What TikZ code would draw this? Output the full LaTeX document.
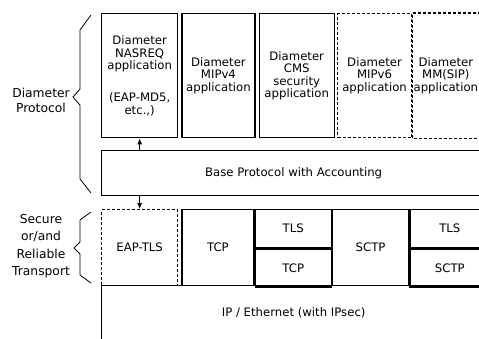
\documentclass[tikz,border=0pt]{standalone}
\usepackage{fontspec}
\setmainfont{DejaVu Sans}
\usepackage{tikz}
\usetikzlibrary{positioning}
\usetikzlibrary{arrows.meta}
\tikzstyle{stack_style}=[
	x=1pt, y=-1pt, line width=1.3pt,
	layer/.style={rectangle,draw,inner sep=0pt,align=center,font=\fontsize{11.7}{12.5}\selectfont},
	dashed_layer/.style={layer,dash pattern=on 3pt off 2pt},
	open_layer/.style={layer,draw=none},
	dashes/.style={dash pattern=on 3pt off 2pt},
	label/.style={rectangle,draw=none,align=center,font=\fontsize{12.3}{15}\selectfont},
	brace_line/.style={line width=0.8pt,line join=miter},
	link/.style={-{Latex[length=6pt,width=5pt]},line width=0.9pt}
]

\begin{document}
\begin{tikzpicture}[stack_style]
		
		\useasboundingbox (0,0) rectangle (479,338);
		\clip (0,0) rectangle (479,338);
		
		% applications
		\node[layer,anchor=north west,minimum width=76pt,minimum height=124pt] (nasreq) at (101,13) {Diameter\\NASREQ\\application\\[19.5pt](EAP-MD5,\\etc.,)};
		\node[layer,minimum width=73pt,minimum height=124pt]        (mipv4)[right=3pt of nasreq] {Diameter\\MIPv4\\application};
		\node[layer,minimum width=75pt,minimum height=124pt]        (cms)[right=3pt of mipv4]    {Diameter\\CMS\\security\\application};
		\node[dashed_layer,minimum width=74pt,minimum height=124pt] (mipv6)[right=2pt of cms]    {Diameter\\MIPv6\\application};
		\node[open_layer,minimum width=66pt,minimum height=124pt]   (mmsip)[right=0pt of mipv6]  {Diameter\\MM(SIP)\\application};
		\draw[dashes] ([xshift=16pt]mmsip.north east) -- (mmsip.north west) -- (mmsip.south west) -- ([xshift=16pt]mmsip.south east);
		
		% base protocol
		\node[layer,anchor=north west,minimum width=384pt,minimum height=45pt] (base) at (101,150) {Base Protocol with Accounting};
		
		% transport
		\node[dashed_layer,anchor=north west,minimum width=76pt,minimum height=76pt] (eaptls) at (101,209) {EAP-TLS};
		\node[layer,minimum width=72pt,minimum height=76pt] (tcp)[right=3pt of eaptls] {TCP};
		\node[layer,anchor=north west,minimum width=76pt,minimum height=38pt] (tlsa) at (tcp.north east) {TLS};
		\node[layer,minimum width=76pt,minimum height=38pt] (tcpb)[below=0pt of tlsa] {TCP};
		\node[layer,anchor=north west,minimum width=76pt,minimum height=76pt] (sctp) at (tlsa.north east) {SCTP};
		\node[layer,anchor=north west,minimum width=80pt,minimum height=38pt] (tlsb) at (sctp.north east) {TLS};
		\node[layer,minimum width=80pt,minimum height=38pt] (sctpb)[below=0pt of tlsb] {SCTP};
		
		% network
		\node[layer,anchor=north west,minimum width=384pt,minimum height=55pt] (ip) at (101,285) {IP / Ethernet (with IPsec)};
		
		\node[label] (diam) at (41,100) {Diameter\\Protocol};
		\node[label,font=\fontsize{12.3}{17.5}\selectfont] (transport) at (41,246) {Secure\\or/and\\Reliable\\Transport};
		
		\draw[link] (nasreq.south |- base.north) -- (nasreq.south);
		\draw[link] (eaptls.north |- base.south) -- (eaptls.north);
		
		\draw[brace_line] (91,15) -- (80,30) -- (80,89) -- (73,97) -- (80,105) -- (80,179) -- (91,193);
		\draw[brace_line] (91,212) -- (80,220) -- (80,242) -- (74,248) -- (80,254) -- (80,275) -- (91,283);
		
\end{tikzpicture}
\end{document}
